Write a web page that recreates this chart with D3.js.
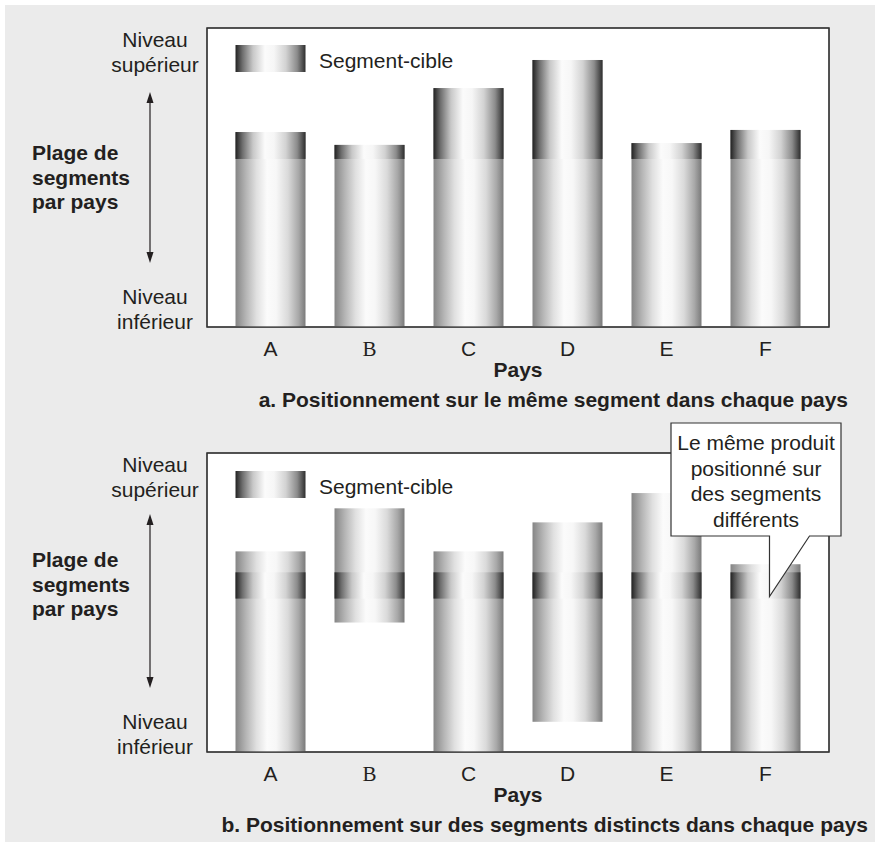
<!DOCTYPE html>
<html>
<head>
<meta charset="utf-8">
<script src="https://cdn.jsdelivr.net/npm/d3@7"></script>
<style>
  html, body { margin: 0; padding: 0; background: #ffffff; }
  svg { display: block; }
  text { font-family: "Liberation Sans", Arial, Helvetica, sans-serif; fill: #231f20; }
</style>
</head>
<body>
<svg id="chart" width="875" height="842"></svg>
<script>
// ---------- DATA ----------
const countries = ["A", "B", "C", "D", "E", "F"];

// Panel a: range of segments per country (0 = niveau inférieur, 100 = niveau supérieur)
const rangeLowA  = [0, 0, 0, 0, 0, 0];
const rangeHighA = [65.2, 60.9, 79.9, 89.3, 61.5, 65.9];
// target segment: same lower level everywhere, top = country's range top
const targetLowA  = [56.2, 56.2, 56.2, 56.2, 56.2, 56.2];
const targetHighA = [65.2, 60.9, 79.9, 89.3, 61.5, 65.9];

// Panel b
const rangeLowB  = [0, 43.3, 0, 10.1, 0, 0];
const rangeHighB = [67.1, 81.5, 67.1, 76.8, 86.6, 62.8];
const targetLowB  = [51.3, 51.3, 51.3, 51.3, 51.3, 51.3];
const targetHighB = [60.1, 60.1, 60.1, 60.1, 60.1, 60.1];

const levelTopLabel = ["Niveau", "supérieur"];
const levelBottomLabel = ["Niveau", "inférieur"];
const rangeLabel = ["Plage de", "segments", "par pays"];
const legendLabel = "Segment-cible";
const xTitle = "Pays";
const captionA = "a. Positionnement sur le même segment dans chaque pays";
const captionB = "b. Positionnement sur des segments distincts dans chaque pays";
const calloutLines = ["Le même produit", "positionné sur", "des segments", "différents"];

// ---------- DRAW ----------
const FS = 21;
const svg = d3.select("#chart");
svg.append("rect").attr("x", 5).attr("y", 5).attr("width", 870).attr("height", 837).attr("fill", "#ebebeb");

const defs = svg.append("defs");
function grad(id, stops) {
  const g = defs.append("linearGradient").attr("id", id)
    .attr("x1", "0%").attr("x2", "100%").attr("y1", "0%").attr("y2", "0%");
  stops.forEach(s => g.append("stop").attr("offset", s[0]).attr("stop-color", s[1]));
}
grad("gTarget", [["0%", "#222222"], ["10%", "#6e6e6e"], ["25%", "#c8c8c8"], ["42%", "#fbfbfb"], ["55%", "#f6f6f6"], ["72%", "#d2d2d2"], ["88%", "#8c8c8c"], ["100%", "#2e2e2e"]]);
grad("gRange", [["0%", "#858585"], ["15%", "#b5b5b5"], ["30%", "#e0e0e0"], ["45%", "#fbfbfb"], ["58%", "#f7f7f7"], ["75%", "#dadada"], ["90%", "#a8a8a8"], ["100%", "#7a7a7a"]]);

const boxLeft = 207, boxRight = 829;

function panel(cfg) {
  const g = svg.append("g");
  const x = d3.scaleBand().domain(countries).range([boxLeft, boxRight])
    .paddingInner(0.293).paddingOuter(0.288);
  const y = d3.scaleLinear().domain([0, 100]).range([cfg.bottom, cfg.top]);

  // plot box
  g.append("rect").attr("x", boxLeft).attr("y", cfg.top)
    .attr("width", boxRight - boxLeft).attr("height", cfg.bottom - cfg.top)
    .attr("fill", "#ffffff").attr("stroke", "#333").attr("stroke-width", 1.2);

  // range bars
  g.selectAll(".range").data(countries).join("rect")
    .attr("x", d => x(d))
    .attr("width", x.bandwidth())
    .attr("y", (d, i) => y(cfg.rangeHigh[i]))
    .attr("height", (d, i) => y(cfg.rangeLow[i]) - y(cfg.rangeHigh[i]))
    .attr("fill", "url(#gRange)");

  // target segments
  g.selectAll(".target").data(countries).join("rect")
    .attr("x", d => x(d))
    .attr("width", x.bandwidth())
    .attr("y", (d, i) => y(cfg.targetHigh[i]))
    .attr("height", (d, i) => y(cfg.targetLow[i]) - y(cfg.targetHigh[i]))
    .attr("fill", "url(#gTarget)");

  // redraw box outline on top
  g.append("rect").attr("x", boxLeft).attr("y", cfg.top)
    .attr("width", boxRight - boxLeft).attr("height", cfg.bottom - cfg.top)
    .attr("fill", "none").attr("stroke", "#333").attr("stroke-width", 1.2);

  // legend
  g.append("rect").attr("x", x("A")).attr("y", cfg.legendY)
    .attr("width", x.bandwidth()).attr("height", 27).attr("fill", "url(#gTarget)");
  g.append("text").attr("x", 319).attr("y", cfg.legendY + 23)
    .attr("font-size", FS).text(legendLabel);

  // x axis tick labels
  g.selectAll(".tick").data(countries).join("text")
    .attr("x", d => x(d) + x.bandwidth() / 2)
    .attr("y", cfg.bottom + 29)
    .attr("text-anchor", "middle")
    .attr("font-size", FS)
    .style("font-family", d => d === "B" ? "'Liberation Serif', 'Times New Roman', serif" : null)
    .text(d => d);

  g.append("text").attr("x", 518).attr("y", cfg.bottom + 50)
    .attr("text-anchor", "middle").attr("font-size", FS).attr("font-weight", "bold").text(xTitle);

  g.append("text").attr("x", cfg.captionX).attr("y", cfg.bottom + 80)
    .attr("text-anchor", "end").attr("font-size", FS).attr("font-weight", "bold").text(cfg.caption);

  // left labels
  levelTopLabel.forEach((t, i) => g.append("text").attr("x", 155).attr("y", cfg.top + 19 + i * 25)
    .attr("text-anchor", "middle").attr("font-size", FS).text(t));
  levelBottomLabel.forEach((t, i) => g.append("text").attr("x", 155).attr("y", cfg.bottom - 23 + i * 25)
    .attr("text-anchor", "middle").attr("font-size", FS).text(t));
  rangeLabel.forEach((t, i) => g.append("text").attr("x", 32).attr("y", cfg.rangeY + i * 24.5)
    .attr("font-size", FS).attr("font-weight", "bold").text(t));

  // double arrow
  const ax = 150;
  g.append("line").attr("x1", ax).attr("x2", ax).attr("y1", cfg.arrowTop + 8).attr("y2", cfg.arrowBottom - 8)
    .attr("stroke", "#231f20").attr("stroke-width", 1.2);
  g.append("path").attr("d", `M${ax},${cfg.arrowTop} L${ax - 3.5},${cfg.arrowTop + 11} L${ax + 3.5},${cfg.arrowTop + 11} Z`).attr("fill", "#231f20");
  g.append("path").attr("d", `M${ax},${cfg.arrowBottom} L${ax - 3.5},${cfg.arrowBottom - 11} L${ax + 3.5},${cfg.arrowBottom - 11} Z`).attr("fill", "#231f20");
  return { x, y };
}

panel({
  top: 28, bottom: 327, legendY: 45,
  rangeLow: rangeLowA, rangeHigh: rangeHighA, targetLow: targetLowA, targetHigh: targetHighA,
  caption: captionA, captionX: 848, rangeY: 160, arrowTop: 92, arrowBottom: 263
});

const pb = panel({
  top: 453, bottom: 752, legendY: 471,
  rangeLow: rangeLowB, rangeHigh: rangeHighB, targetLow: targetLowB, targetHigh: targetHighB,
  caption: captionB, captionX: 868, rangeY: 567, arrowTop: 514, arrowBottom: 688
});

// callout
const tipX = pb.x("F") + 39, tipY = pb.y(51.3) - 2;
const cL = 671, cR = 841, cT = 423, cB = 536;
svg.append("path")
  .attr("d", `M${cL},${cT} L${cR},${cT} L${cR},${cB} L${tipX + 40},${cB} L${tipX},${tipY} L${tipX},${cB} L${cL},${cB} Z`)
  .attr("fill", "#ffffff").attr("stroke", "#333").attr("stroke-width", 1.2);
calloutLines.forEach((t, i) => svg.append("text").attr("x", 756).attr("y", 450 + i * 25.7)
  .attr("text-anchor", "middle").attr("font-size", FS).text(t));
</script>
</body>
</html>
